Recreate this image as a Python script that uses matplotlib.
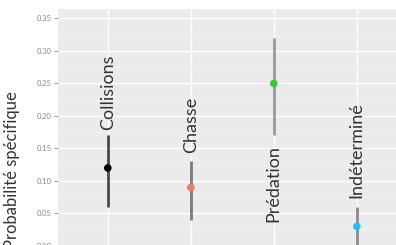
import numpy as np
import matplotlib.pyplot as plt

# data
categories = ['Collisions', 'Chasse', 'Prédation', 'Indéterminé']
estimates = [0.12, 0.09, 0.25, 0.03]
lower = [0.06, 0.04, 0.17, 0.0]
upper = [0.17, 0.13, 0.32, 0.06]
point_colors = ['#000000', '#F8766D', '#33CC33', '#1EC0FF']
line_colors = ['#4a4a4a', '#7a7a7a', '#9a9a9a', '#8a8a8a']
label_y = [0.178, 0.143, 0.155, 0.074]
label_va = ['bottom', 'bottom', 'top', 'bottom']
yticks = [0.00, 0.05, 0.10, 0.15, 0.20, 0.25, 0.30, 0.35]

plt.rcParams['font.family'] = ['Lato', 'DejaVu Sans']

W, H = 396, 245
fig = plt.figure(figsize=(W / 100, H / 100), dpi=100)
# panel is cropped at the bottom and the right in the reference
ax = fig.add_axes([58 / W, 1 - 257 / H, 348.6 / W, 248 / H])
ax.set_facecolor('#EBEBEB')
ax.set_xlim(0.4, 4.6)
ax.set_ylim(-0.017, 0.3646)

x = np.arange(1, len(categories) + 1)

# grid like ggplot's theme_grey
for yv in np.arange(0.025, 0.36, 0.05):
    ax.axhline(yv, color='#F5F5F5', lw=0.5, zorder=0)
for yv in yticks:
    ax.axhline(yv, color='white', lw=1.0, zorder=0)
for xv in x:
    ax.axvline(xv, color='white', lw=1.0, zorder=0)

for i in range(len(categories)):
    ax.plot([x[i], x[i]], [lower[i], upper[i]], color=line_colors[i],
            lw=2, solid_capstyle='butt', zorder=2)
    ax.scatter(x[i], estimates[i], s=30, color=point_colors[i],
               edgecolors='none', zorder=3)
    ax.text(x[i], label_y[i], categories[i], rotation=90, ha='center',
            va=label_va[i], fontsize=13, color='#333333', zorder=4)

ax.set_xticks([])
ax.set_yticks(yticks)
ax.set_yticklabels(['%.2f' % v for v in yticks], fontsize=5.5, color='#8a8a8a')
ax.tick_params(axis='y', length=3, width=0.6, color='#8a8a8a', pad=1.5)
for s in ax.spines.values():
    s.set_visible(False)

fig.text(12 / W, 1 - 170 / H, 'Probabilité spécifique', rotation=90,
         ha='center', va='center', fontsize=12, color='#333333')

fig.savefig('out.png', dpi=100)
